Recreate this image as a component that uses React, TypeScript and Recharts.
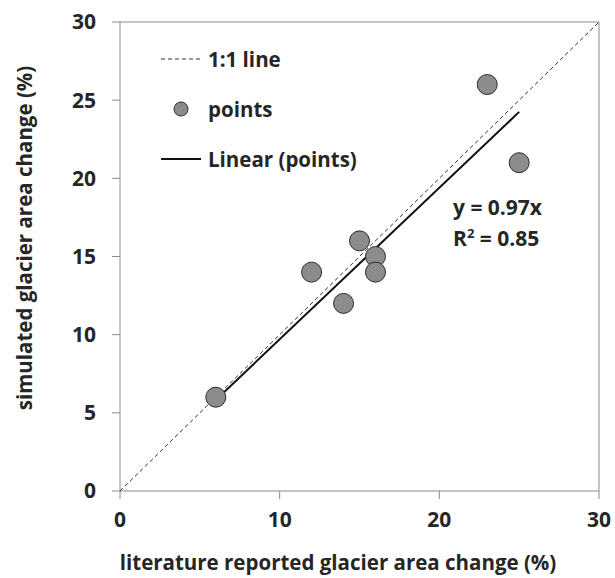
import React from 'react';
import { ScatterChart, Scatter, XAxis, YAxis, ReferenceLine } from 'recharts';

// literature reported vs simulated glacier area change (%)
const literatureX = [6, 12, 15, 14, 16, 16, 23, 25];
const simulatedY = [6, 14, 16, 12, 15, 14, 26, 21];

// Excel trendline (y = 0.97x) drawn over the data range
const trendX = [6, 25];
const trendY = [5.82, 24.25];

// 1:1 reference line
const oneToOneX = [0, 30];
const oneToOneY = [0, 30];

const xTicks = [0, 10, 20, 30];
const yTicks = [0, 5, 10, 15, 20, 25, 30];

const points = literatureX.map((x, i) => ({ x, y: simulatedY[i] }));
const trend = trendX.map((x, i) => ({ x, y: trendY[i] }));
const oneToOne = oneToOneX.map((x, i) => ({ x, y: oneToOneY[i] }));

const FONT = '"Open Sans", sans-serif';
const TEXT = '#262626';
const AXIS = '#8a8a8a';

const Dot = (props: any) => (
  <circle cx={props.cx} cy={props.cy} r={10} fill="#8c8c8c" stroke="#2b2b2b" strokeWidth={1} />
);

const NoDot = () => <g />;

const XTitle = () => (
  <text x={338} y={570} textAnchor="middle" fill={TEXT} fontSize={20.5} fontWeight={700} fontFamily={FONT}>
    literature reported glacier area change (%)
  </text>
);

const YTitle = () => (
  <text
    x={24}
    y={238}
    transform="rotate(-90, 24, 238)"
    textAnchor="middle"
    dominantBaseline="central"
    fill={TEXT}
    fontSize={20.5}
    fontWeight={700}
    fontFamily={FONT}
  >
    simulated glacier area change (%)
  </text>
);

const LegendBox = () => (
  <div
    style={{
      position: 'absolute',
      left: 161,
      top: 34,
      fontFamily: FONT,
      fontWeight: 700,
      fontSize: 20.5,
      color: TEXT,
      lineHeight: '50px',
    }}
  >
    <div style={{ display: 'flex', alignItems: 'center' }}>
      <svg width={47} height={10}>
        <line x1={0} y1={5} x2={40} y2={5} stroke="#333" strokeWidth={1} strokeDasharray="4 3" />
      </svg>
      <span>1:1 line</span>
    </div>
    <div style={{ display: 'flex', alignItems: 'center' }}>
      <svg width={47} height={18}>
        <circle cx={20} cy={9} r={7} fill="#8c8c8c" stroke="#2b2b2b" strokeWidth={1} />
      </svg>
      <span>points</span>
    </div>
    <div style={{ display: 'flex', alignItems: 'center' }}>
      <svg width={47} height={10}>
        <line x1={0} y1={5} x2={40} y2={5} stroke="#111" strokeWidth={2} />
      </svg>
      <span>Linear (points)</span>
    </div>
  </div>
);

export default function App() {
  return (
    <div style={{ position: 'relative', width: 615, height: 578, background: '#fff', overflow: 'hidden' }}>
      <style>{'body{margin:0;overflow:hidden}'}</style>
      <ScatterChart
        width={615}
        height={578}
        margin={{ top: 22, right: 16, bottom: 0, left: 0 }}
        style={{ overflow: 'visible' }}
      >
        <XAxis
          type="number"
          dataKey="x"
          domain={[0, 30]}
          ticks={xTicks}
          height={87}
          stroke={AXIS}
          tickSize={8}
          tick={{ fill: TEXT, fontSize: 21, fontWeight: 700, fontFamily: FONT, dy: 11 }}
          label={<XTitle />}
        />
        <YAxis
          type="number"
          dataKey="y"
          domain={[0, 30]}
          ticks={yTicks}
          width={120}
          stroke={AXIS}
          tickSize={8}
          tick={{ fill: TEXT, fontSize: 21, fontWeight: 700, fontFamily: FONT, dx: -14 }}
          label={<YTitle />}
        />
        <ReferenceLine y={30} stroke={AXIS} />
        <ReferenceLine x={30} stroke={AXIS} />
        <Scatter
          data={oneToOne}
          line={{ stroke: '#333', strokeWidth: 1, strokeDasharray: '4 3' }}
          shape={NoDot}
          isAnimationActive={false}
        />
        <Scatter
          data={trend}
          line={{ stroke: '#111', strokeWidth: 2 }}
          shape={NoDot}
          isAnimationActive={false}
        />
        <Scatter data={points} shape={Dot} isAnimationActive={false} />
      </ScatterChart>
      <LegendBox />
      <div
        style={{
          position: 'absolute',
          left: 453,
          top: 192,
          fontFamily: FONT,
          fontWeight: 700,
          fontSize: 21,
          color: TEXT,
          lineHeight: '31px',
        }}
      >
        <div>y = 0.97x</div>
        <div>
          R<sup style={{ fontSize: 13, verticalAlign: 'top', lineHeight: '20px' }}>2</sup> = 0.85
        </div>
      </div>
    </div>
  );
}
